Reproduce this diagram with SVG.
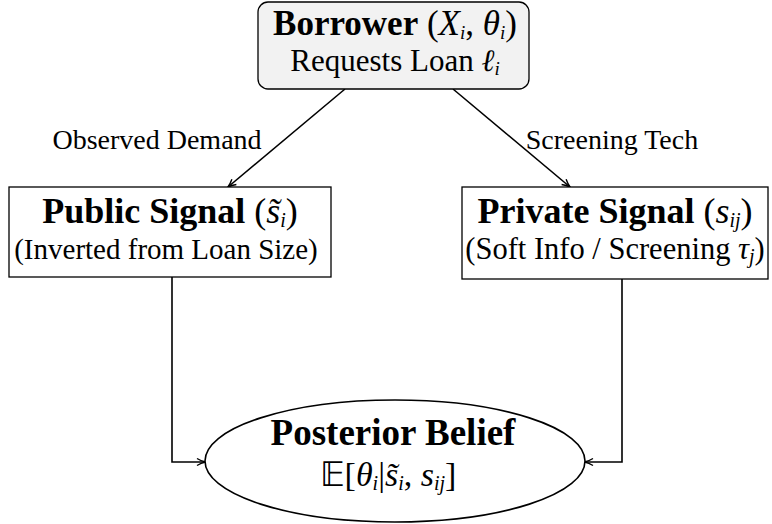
<svg xmlns="http://www.w3.org/2000/svg" width="772" height="524" viewBox="0 0 772 524">
<style>
text{font-family:"Liberation Serif","Times New Roman",serif;fill:#000;text-anchor:middle}
.b{font-weight:bold}
.i{font-style:italic}
.t1{font-size:36px}
.t2{font-size:29px}
.lab{font-size:28px}
.sub{font-size:20px}
.box{fill:#fff;stroke:#000;stroke-width:1.3}
.edge{fill:none;stroke:#000;stroke-width:1.6}
</style>
<defs>
<marker id="ah" viewBox="0 0 10 10" refX="9" refY="5" markerWidth="10" markerHeight="10" markerUnits="userSpaceOnUse" orient="auto">
<path d="M1,1.5 Q5,4 9.5,5 Q5,6 1,8.5" fill="none" stroke="#000" stroke-width="1.4"/>
</marker>
</defs>
<g id="connectors">
<path class="edge" d="M345,89 L228,187" marker-end="url(#ah)"/>
<path class="edge" d="M453,89 L570,187" marker-end="url(#ah)"/>
<path class="edge" d="M172,277 L172,462 L205,462" marker-end="url(#ah)"/>
<path class="edge" d="M622,279 L622,462 L585,462" marker-end="url(#ah)"/>
<text class="lab" x="157" y="149">Observed Demand</text>
<text class="lab" x="612" y="149">Screening Tech</text>
</g>
<g id="borrower">
<rect x="258" y="2" width="271" height="87" rx="10" ry="10" fill="#f2f2f2" stroke="#000" stroke-width="1.3"/>
<text x="395" y="35" style="font-size:35px"><tspan class="b">Borrower</tspan> (<tspan class="i">X</tspan><tspan class="i" dy="4" style="font-size:19px">i</tspan><tspan dy="-4">, </tspan><tspan class="i">θ</tspan><tspan class="i" dy="4" style="font-size:19px">i</tspan><tspan dy="-4">)</tspan></text>
<text x="395" y="71" style="font-size:31px">Requests Loan <tspan class="i">ℓ</tspan><tspan class="i" dy="4" style="font-size:19px">i</tspan></text>
</g>
<g id="public">
<rect class="box" x="9" y="187" width="322" height="90"/>
<text class="t1" x="170" y="223"><tspan class="b">Public Signal</tspan> (<tspan class="i">s̃</tspan><tspan class="i sub" dy="4">i</tspan><tspan dy="-4">)</tspan></text>
<text class="t2" x="166" y="259">(Inverted from Loan Size)</text>
</g>
<g id="private">
<rect class="box" x="462" y="187" width="306" height="92"/>
<text class="t1" x="615" y="223"><tspan class="b">Private Signal</tspan> (<tspan class="i">s</tspan><tspan class="i sub" dy="4">ij</tspan><tspan dy="-4">)</tspan></text>
<text class="t2" x="615" y="259" style="font-size:30.5px">(Soft Info / Screening <tspan class="i">τ</tspan><tspan class="i sub" dy="4">j</tspan><tspan dy="-4">)</tspan></text>
</g>
<g id="posterior">
<ellipse cx="395" cy="461" rx="190" ry="61" fill="#fff" stroke="#000" stroke-width="1.6"/>
<text class="b" x="393" y="445" style="font-size:37px">Posterior Belief</text>
<text x="388" y="486" style="font-size:34px">𝔼[<tspan class="i">θ</tspan><tspan class="i sub" dy="4">i</tspan><tspan dy="-4">|</tspan><tspan class="i">s̃</tspan><tspan class="i sub" dy="4">i</tspan><tspan dy="-4">, </tspan><tspan class="i">s</tspan><tspan class="i sub" dy="4">ij</tspan><tspan dy="-4">]</tspan></text>
</g>
</svg>
